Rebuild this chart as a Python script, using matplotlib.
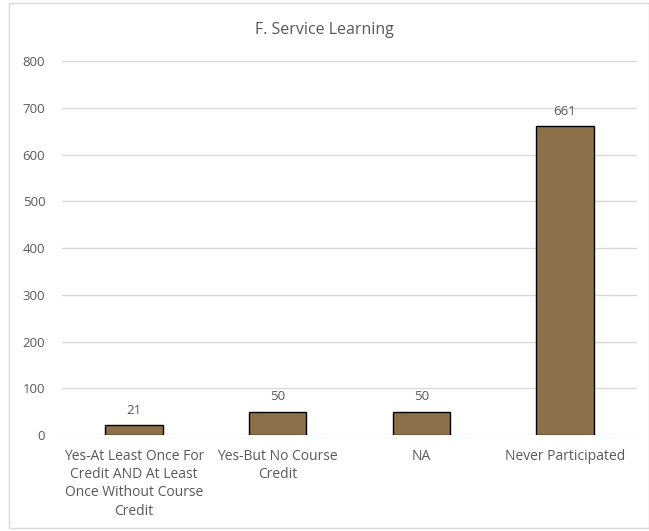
import matplotlib.pyplot as plt
from matplotlib.patches import Rectangle

categories = ['Yes-At Least Once For\nCredit AND At Least\nOnce Without Course\nCredit',
              'Yes-But No Course\nCredit', 'NA', 'Never Participated']
counts = [21, 50, 50, 661]

plt.rcParams['font.family'] = ['Open Sans', 'DejaVu Sans']
text_col = '#595959'

fig = plt.figure(figsize=(6.49, 5.31), dpi=100)
ax = fig.add_axes([0.0955, 0.1808, 0.886, 0.7042])

bars = ax.bar(range(len(counts)), counts, width=0.4, color='#8B7049',
              edgecolor='black', linewidth=1.0, zorder=3)
for b, v in zip(bars, counts):
    ax.text(b.get_x() + b.get_width() / 2, v + 18, str(v), ha='center', va='bottom',
            fontsize=9.5, color=text_col)

ax.set_xlim(-0.5, 3.5)
ax.set_ylim(0, 800)
ax.set_yticks(range(0, 801, 100))
ax.set_xticks(range(len(categories)))
ax.set_xticklabels(categories, fontsize=10, color=text_col, linespacing=1.3)
ax.tick_params(axis='y', labelsize=9.5, colors=text_col, length=0, pad=12)
ax.tick_params(axis='x', length=0, pad=10)
ax.grid(axis='y', color='#d9d9d9', linewidth=1, zorder=0)
for s in ax.spines.values():
    s.set_visible(False)

fig.text(0.5, 0.944, 'F. Service Learning', ha='center', va='center',
         fontsize=11.5, color=text_col)

fig.patches.append(Rectangle((9 / 649, 3 / 531), 640 / 649, 525 / 531, transform=fig.transFigure,
                             fill=False, edgecolor='#d9d9d9', linewidth=1))

fig.savefig('out.png', dpi=100)
